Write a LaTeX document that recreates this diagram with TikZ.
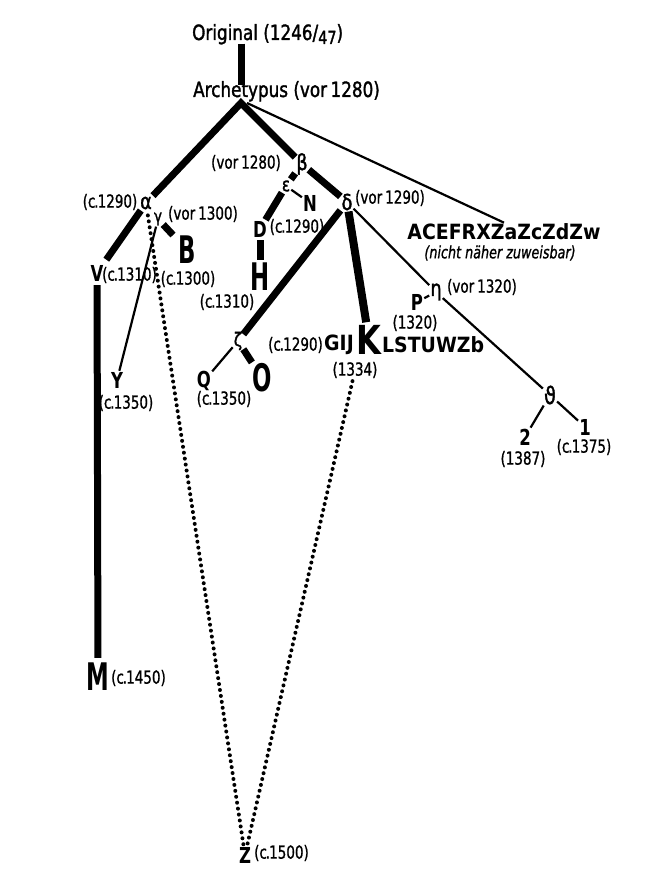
\documentclass[tikz,border=0pt]{standalone}
\usepackage{fontspec}
\setmainfont{DejaVu Sans}
\newfontfamily\cond{DejaVu Sans}[FakeStretch=0.75, FakeBold=1]
\newfontfamily\headf{DejaVu Sans}[FakeStretch=0.8, FakeBold=1.5]
\newfontfamily\sigf{DejaVu Sans}[FakeStretch=0.75]
\newfontfamily\capsf{DejaVu Sans}[FakeStretch=0.9]
\newfontfamily\narrowbig{DejaVu Sans}[FakeStretch=0.6]
\newfontfamily\midK{DejaVu Sans}[FakeStretch=0.8]
\newcommand\cdt{c\kern-1.2pt.\kern-0.8pt}
\tikzset{
  lab/.style={inner sep=0pt, font=\cond\fontsize{18}{18}\selectfont},
  sig/.style={inner sep=1pt, font=\sigf\bfseries\fontsize{22}{22}\selectfont},
  caps/.style={inner sep=1pt, font=\capsf\bfseries\fontsize{21}{21}\selectfont},
  bigsig/.style={inner sep=1pt, font=\narrowbig\bfseries\fontsize{38}{38}\selectfont},
  gr/.style={inner sep=1pt, font=\headf\fontsize{22}{22}\selectfont},
  head/.style={inner sep=0pt, font=\headf\fontsize{21}{21}\selectfont, anchor=base west},
  thickl/.style={line width=7pt},
  thinl/.style={line width=2.2pt},
  dotl/.style={line width=4pt, line cap=round, dash pattern=on 0pt off 6pt}
}
\begin{document}
\begin{tikzpicture}[x=1pt,y=-1pt]
\path[use as bounding box, fill=white] (0,0) rectangle (651,896);

% headings
\node[head] (orig) at (192,40) {Original (1246/\raisebox{-4pt}{\fontsize{18}{18}\selectfont 47})};
\node[head] (arch) at (193,97) {Archetypus (vor\,1280)};
\coordinate (apex) at (241,103);
\coordinate (apexr) at (247,103);

% greek letters
\node[gr] (alpha) at (146,203) {α};
\node[gr, font=\headf\fontsize{17}{17}\selectfont] (gamma) at (158,219) {γ};
\node[gr] (beta) at (302,164) {β};
\node[gr] (delta) at (347,202) {δ};
\node[gr, font=\headf\fontsize{19}{19}\selectfont] (eps) at (286,186) {ε};
\node[gr, font=\headf\fontsize{19}{19}\selectfont] (zeta) at (238,341) {ζ};
\node[gr] (eta) at (436,292) {η};
\node[gr, font=\headf\fontsize{24}{24}\selectfont] (theta) at (550,395) {ϑ};

% sigla
\node[sig] (V) at (97,273) {V};
\node[sig] (Y) at (117,380) {Y};
\node[sig] (D) at (260,229) {D};
\node[sig] (N) at (310,203) {N};
\node[sig] (P) at (417,302) {P};
\node[sig] (Q) at (204,381) {Q};
\node[sig] (Z) at (245,855) {Z};
\node[sig] (two) at (525,437) {2};
\node[sig] (one) at (585,427) {1};
\node[bigsig] (B) at (187,250) {B};
\node[bigsig] (H) at (260,277) {H};
\node[bigsig] (O) at (262,378) {O};
\node[bigsig, font=\midK\bfseries\fontsize{40}{40}\selectfont] (K) at (369,340) {K};
\node[bigsig] (M) at (98,677) {M};
\node[caps, anchor=east] (gij) at (355,345) {GIJ};
\node[caps, anchor=west] (lstu) at (381,345) {LSTUWZb};
\node[caps] (acef) at (504,232) {ACEFRXZaZcZdZw};
\node[lab, font=\cond\itshape\fontsize{17}{17}\selectfont] (nzw) at (500,253) {(nicht näher zuweisbar)};

% dates
\node[lab] (da) at (110,202) {(\cdt1290)};
\node[lab] (dg) at (203,214) {(vor\,1300)};
\node[lab, anchor=west] (dv) at (102,275) {(\cdt1310)};
\node[lab] (db) at (188,279) {(\cdt1300)};
\node[lab] (dy) at (126,403) {(\cdt1350)};
\node[lab] (dbeta) at (246,163) {(vor\,1280)};
\node[lab] (ddelta) at (390,198) {(vor\,1290)};
\node[lab] (dd) at (297,227) {(\cdt1290)};
\node[lab] (dh) at (227,302) {(\cdt1310)};
\node[lab] (dq) at (224,399) {(\cdt1350)};
\node[lab, anchor=east] (dgij) at (gij.west) {(\cdt1290)};
\node[lab] (k1334) at (355,370) {(1334)};
\node[lab] (deta) at (482,287) {(vor\,1320)};
\node[lab] (dp) at (415,323) {(1320)};
\node[lab] (d2) at (523,459) {(1387)};
\node[lab] (d1) at (584,447) {(\cdt1375)};
\node[lab, anchor=west] (dm) at (111,678) {(\cdt1450)};
\node[lab, anchor=west] (dz) at (254,853) {(\cdt1500)};

% connectors
\draw[line width=7pt, shorten <=-1pt, shorten >=-4pt] (orig.south -| apex) -- (arch.north -| apex);
\draw[thickl, line join=miter] (alpha) -- (apex) -- (beta);
\draw[thinl] (apexr) -- (acef.north);
\draw[thickl] (beta) -- (delta);
\draw[thickl] (beta) -- (eps);
\draw[thinl] (eps) -- (N);
\draw[thickl] (eps) -- (D);
\draw[thickl, shorten <=2pt, shorten >=2pt] (D) -- (H);
\draw[thickl] (delta) -- (zeta);
\draw[thickl] (zeta) -- (O);
\draw[thinl] (zeta) -- (Q);
\draw[line width=8pt, shorten >=2pt] (delta) -- (K);
\draw[thinl] (delta) -- (eta);
\draw[thinl] (eta) -- (P);
\draw[thinl] (eta) -- (theta);
\draw[thinl] (theta) -- (two);
\draw[thinl] (theta) -- (one);
\draw[thickl, shorten >=5pt] (alpha) -- (V);
\draw[thickl, shorten >=6pt] (gamma) -- (B);
\draw[thinl] (gamma) -- (Y);
\draw[thickl, shorten <=3pt, shorten >=4pt] (V) -- (M);
\draw[dotl, shorten <=5pt] (alpha) -- (Z);
\draw[dotl, shorten <=3pt] (k1334) -- (Z);
\end{tikzpicture}
\end{document}
